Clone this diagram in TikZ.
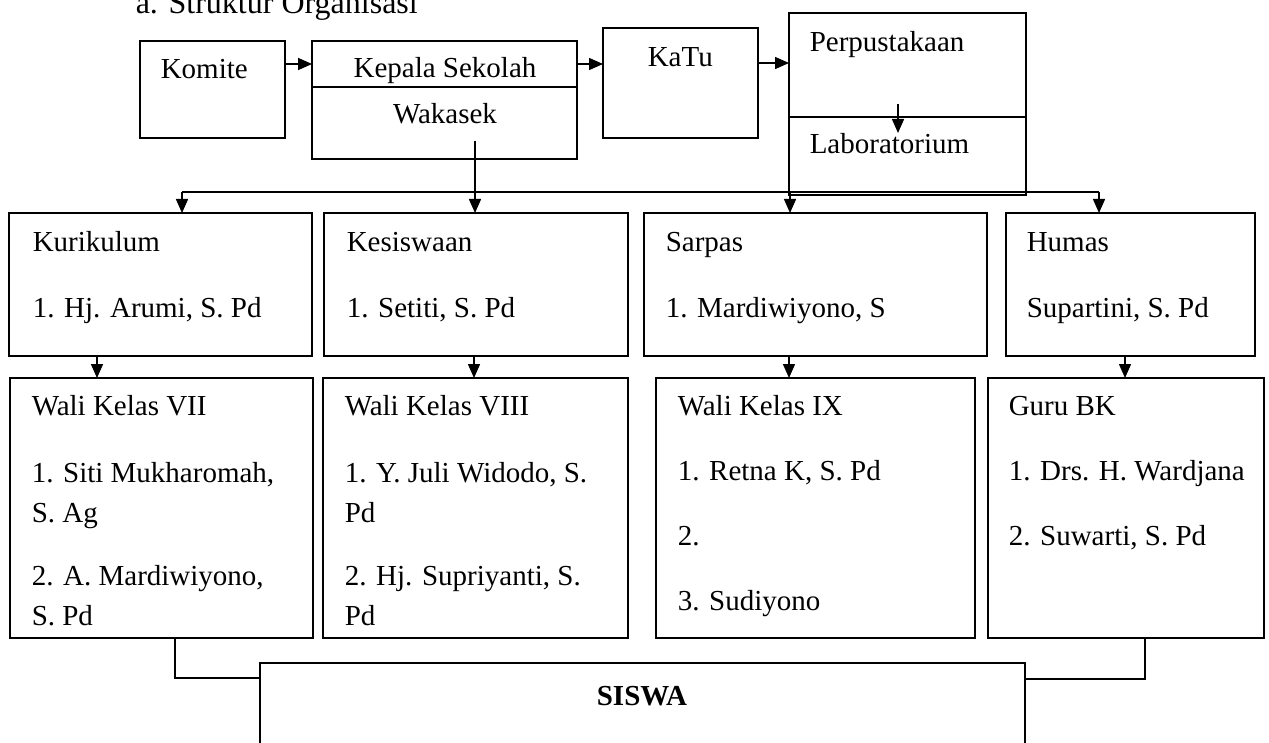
\documentclass[tikz,border=0pt]{standalone}
\usepackage{fontspec}
\setmainfont{Liberation Serif}
\usetikzlibrary{arrows.meta}

\begin{document}
\begin{tikzpicture}[x=1pt,y=-1pt,line width=1.5pt,
  arr/.style={-{Triangle[length=14pt,width=12pt]}}]
  \tikzstyle{box}=[draw, rectangle, anchor=north west, inner sep=0pt, outer sep=0pt, line width=1.6pt]
  \tikzstyle{txt}=[anchor=base west, inner sep=0pt, font=\fontsize{29pt}{35pt}\selectfont]
  \useasboundingbox (0,0) rectangle (1269,743);

  \node[txt, font=\fontsize{32pt}{38pt}\selectfont] (Judul) at (135,14) {a. Struktur Organisasi};

  % top row
  \node[box, minimum width=145pt, minimum height=97pt] (Komite) at (140,41) {};
  \node[box, minimum width=265pt, minimum height=46pt] (Kepsek) at (312,41) {};
  \node[box, minimum width=265pt, minimum height=72pt] (Wakasek) at (312,87) {};
  \node[box, minimum width=155pt, minimum height=110pt] (KaTu) at (603,28) {};
  \node[box, minimum width=237pt, minimum height=104pt] (Perpus) at (789,13) {};
  \node[box, minimum width=237pt, minimum height=78pt] (Lab) at (789,117) {};

  \node[txt] (KomiteT) at (160,79) {Komite};
  \node[txt, anchor=base] (KepsekT) at (445,78) {Kepala Sekolah};
  \node[txt, anchor=base] (WakasekT) at (445,124) {Wakasek};
  \node[txt] (KaTuT) at (647,67) {KaTu};
  \node[txt] (PerpusT) at (809,52) {Perpustakaan};
  \node[txt] (LabT) at (809,154) {Laboratorium};

  % second row
  \node[box, minimum width=303pt, minimum height=143pt] (Kurikulum) at (9,213) {};
  \node[box, minimum width=304pt, minimum height=143pt] (Kesiswaan) at (324,213) {};
  \node[box, minimum width=343pt, minimum height=143pt] (Sarpas) at (644,213) {};
  \node[box, minimum width=249pt, minimum height=143pt] (Humas) at (1006,213) {};

  \node[txt] (Kur_1) at (32,252) {Kurikulum};
  \node[txt] (Kur_2) at (32,317) {1. Hj. Arumi, S. Pd};
  \node[txt] (Kes_1) at (346,252) {Kesiswaan};
  \node[txt] (Kes_2) at (346,317) {1. Setiti, S. Pd};
  \node[txt] (Sar_1) at (665,252) {Sarpas};
  \node[txt] (Sar_2) at (665,317) {1. Mardiwiyono, S};
  \node[txt] (Hum_1) at (1026,252) {Humas};
  \node[txt] (Hum_2) at (1026,317) {Supartini, S. Pd};

  % third row
  \node[box, minimum width=303pt, minimum height=260pt] (WaliVII) at (10,378) {};
  \node[box, minimum width=305pt, minimum height=260pt] (WaliVIII) at (323,378) {};
  \node[box, minimum width=319pt, minimum height=260pt] (WaliIX) at (656,378) {};
  \node[box, minimum width=276pt, minimum height=260pt] (GuruBK) at (988,378) {};

  \node[txt] (W7_1) at (31,415) {Wali Kelas VII};
  \node[txt] (W7_2) at (31,482) {1. Siti Mukharomah,};
  \node[txt] (W7_3) at (31,522) {S. Ag};
  \node[txt] (W7_4) at (31,585) {2. A. Mardiwiyono,};
  \node[txt] (W7_5) at (31,625) {S. Pd};
  \node[txt] (W8_1) at (344,415) {Wali Kelas VIII};
  \node[txt] (W8_2) at (344,482) {1. Y. Juli Widodo, S.};
  \node[txt] (W8_3) at (344,522) {Pd};
  \node[txt] (W8_4) at (344,585) {2. Hj. Supriyanti, S.};
  \node[txt] (W8_5) at (344,625) {Pd};
  \node[txt] (W9_1) at (677,415) {Wali Kelas IX};
  \node[txt] (W9_2) at (677,480) {1. Retna K, S. Pd};
  \node[txt] (W9_3) at (677,545) {2.};
  \node[txt] (W9_4) at (677,610) {3. Sudiyono};
  \node[txt] (BK_1) at (1008,415) {Guru BK};
  \node[txt] (BK_2) at (1008,480) {1. Drs. H. Wardjana};
  \node[txt] (BK_3) at (1008,545) {2. Suwarti, S. Pd};

  % bottom
  \node[box, minimum width=765pt, minimum height=120pt] (Siswa) at (260,663) {};
  \node[txt, anchor=base, font=\bfseries\fontsize{29pt}{35pt}\selectfont] (SiswaT) at (642,705) {SISWA};

  \draw[arr] (Komite.east |- 0,64) -- (Kepsek.west |- 0,64);
  \draw[arr] (Kepsek.east |- 0,64) -- (KaTu.west |- 0,64);
  \draw[arr] (KaTu.east |- 0,63) -- (Perpus.west |- 0,63);
  \coordinate (P_1) at (898,104);
  \coordinate (P_2) at (898,133);
  \draw[arr] (P_1) -- (P_2);

  \coordinate (W) at (475,141);
  \coordinate (bus) at (475,192);
  \draw (W) -- (bus);
  \draw (bus -| 182,0) -- (bus -| 1099,0);
  \foreach \n/\x in {Kurikulum/182,Kesiswaan/475,Sarpas/790,Humas/1099}
    \draw[arr] (bus -| \x,0) -- (\n.north -| \x,0);

  \foreach \a/\b/\x in {Kurikulum/WaliVII/97,Kesiswaan/WaliVIII/474,Sarpas/WaliIX/789,Humas/GuruBK/1125}
    \draw[arr] (\a.south -| \x,0) -- (\b.north -| \x,0);

  \draw (WaliVII.south -| 175,0) |- (Siswa.west |- 0,678);
  \draw (GuruBK.south -| 1145,0) |- (Siswa.east |- 0,679);
\end{tikzpicture}
\end{document}
